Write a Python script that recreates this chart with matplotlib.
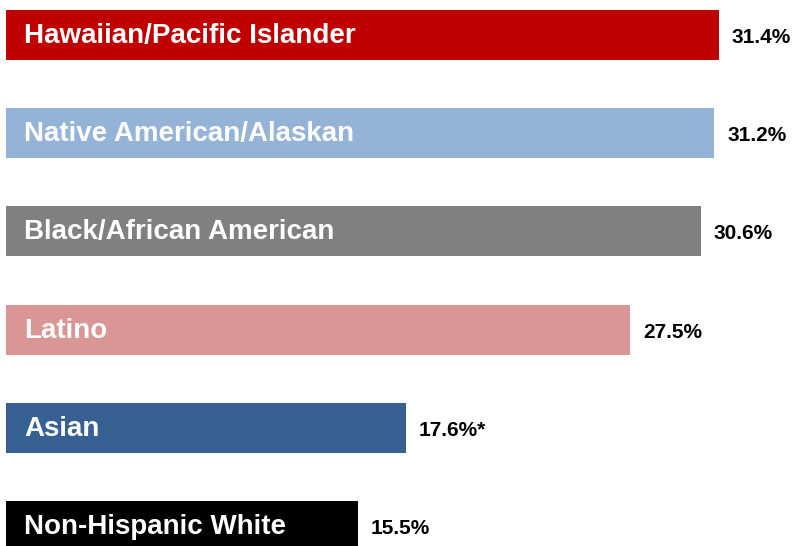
import matplotlib.pyplot as plt

# data
groups = ["Hawaiian/Pacific Islander", "Native American/Alaskan",
          "Black/African American", "Latino", "Asian", "Non-Hispanic White"]
values = [31.4, 31.2, 30.6, 27.5, 17.6, 15.5]
value_labels = ["31.4%", "31.2%", "30.6%", "27.5%", "17.6%*", "15.5%"]
colors = ["#C00000", "#95B3D7", "#808080", "#D99694", "#376092", "#000000"]

plt.rcParams['font.family'] = ['Liberation Sans', 'DejaVu Sans']

fig = plt.figure(figsize=(7.92, 5.46), dpi=100)
ax = fig.add_axes([0, 0, 1, 1])

px = 22.7          # pixels per percentage point
step = 98.2        # pixels between bar centres
ypos = list(range(len(groups)))
ax.barh(ypos, values, height=50 / step, color=colors, left=0)

# baseline sits ~8px below the bar centre
base = 8 / step
for y, v, g, lab in zip(ypos, values, groups, value_labels):
    ax.text(18 / px, y + base, g, color="white", fontsize=20, fontweight="bold",
            va="baseline", ha="left")
    ax.text(v + 13 / px, y + base, lab, color="black", fontsize=15,
            fontweight="bold", va="baseline", ha="left")

ax.set_xlim(-6 / px, (792 - 6) / px)
ax.set_ylim((546 - 35) / step, -35 / step)
ax.axis("off")

fig.savefig("out.png", dpi=100)
